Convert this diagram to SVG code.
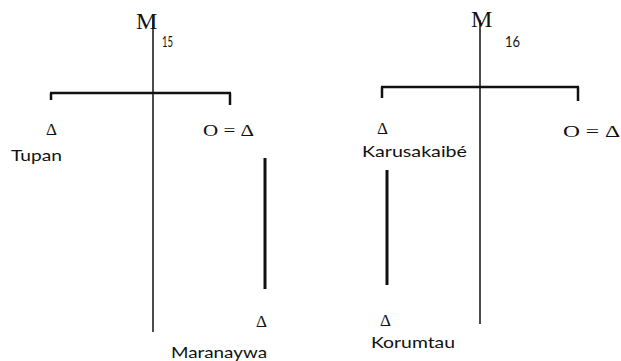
<svg xmlns="http://www.w3.org/2000/svg" width="621" height="361" viewBox="0 0 621 361">
<style>
.ln{stroke:#111;stroke-width:1.5;fill:none}
.bar{stroke:#111;stroke-width:2.5;fill:none}
.thk{stroke:#111;stroke-width:3;fill:none}
.tk{stroke:#111;stroke-width:2.5;fill:none}
.m{font-family:"Liberation Serif",serif;font-size:24px;fill:#111}
.n{font-family:"Lato","Liberation Sans",sans-serif;font-size:16px;fill:#111}
.s{font-family:"Liberation Serif",serif;font-size:17px;fill:#111}
.nm{font-family:"Lato","Liberation Sans",sans-serif;font-size:16px;fill:#111}
</style>
<rect width="621" height="361" fill="#fff"/>
<g id="connectors">
<line class="ln" x1="153" y1="17" x2="153" y2="332"/>
<line class="bar" x1="50" y1="93" x2="231" y2="93"/>
<line class="tk" x1="51" y1="93" x2="51" y2="100"/>
<line class="tk" x1="230" y1="93" x2="230" y2="105"/>
<line class="thk" x1="265" y1="158" x2="265" y2="289"/>
<line class="ln" x1="480" y1="20" x2="480" y2="324"/>
<line class="bar" x1="381" y1="87" x2="579" y2="87"/>
<line class="tk" x1="382" y1="87" x2="382" y2="98"/>
<line class="tk" x1="578" y1="87" x2="578" y2="101"/>
<line class="thk" x1="387" y1="170" x2="387" y2="285"/>
</g>
<g id="M15">
<text class="m" x="136" y="29">M</text>
<text class="n" x="162" y="47" textLength="11" lengthAdjust="spacingAndGlyphs">15</text>
</g>
<g id="M16">
<text class="m" x="471" y="27">M</text>
<text class="n" x="505" y="47" textLength="15" lengthAdjust="spacingAndGlyphs">16</text>
</g>
<g id="tupan">
<text class="s" x="46" y="135">Δ</text>
<text class="nm" x="11" y="161" textLength="51" lengthAdjust="spacingAndGlyphs">Tupan</text>
</g>
<g id="left-couple">
<text class="s" x="203" y="136" textLength="51" lengthAdjust="spacingAndGlyphs">O = Δ</text>
</g>
<g id="maranaywa">
<text class="s" x="256" y="327">Δ</text>
<text class="nm" x="171" y="358" textLength="96" lengthAdjust="spacingAndGlyphs">Maranaywa</text>
</g>
<g id="karusakaibe">
<text class="s" x="377" y="134">Δ</text>
<text class="nm" x="362" y="157" textLength="105" lengthAdjust="spacingAndGlyphs">Karusakaibé</text>
</g>
<g id="right-couple">
<text class="s" x="563" y="137" textLength="57" lengthAdjust="spacingAndGlyphs">O = Δ</text>
</g>
<g id="korumtau">
<text class="s" x="380" y="326">Δ</text>
<text class="nm" x="371" y="348" textLength="84" lengthAdjust="spacingAndGlyphs">Korumtau</text>
</g>
</svg>
